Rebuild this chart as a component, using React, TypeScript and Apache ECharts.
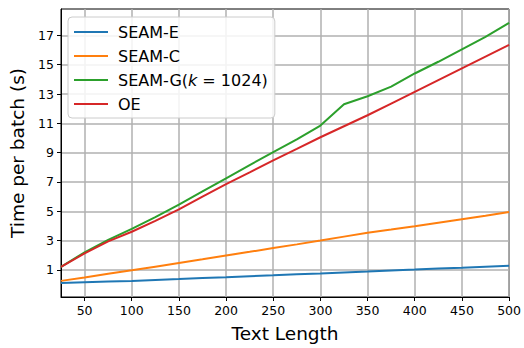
import React, { useEffect, useRef } from "react";
import * as echarts from "echarts";

const textLength = [25, 50, 75, 100, 125, 150, 175, 200, 225, 250, 275, 300, 325, 350, 375, 400, 425, 450, 475, 500];
const seamE = [0.1, 0.16, 0.21, 0.25, 0.31, 0.37, 0.44, 0.5, 0.57, 0.63, 0.7, 0.76, 0.83, 0.89, 0.96, 1.02, 1.09, 1.15, 1.22, 1.29];
const seamC = [0.25, 0.48, 0.73, 0.97, 1.22, 1.47, 1.72, 1.98, 2.23, 2.49, 2.74, 3.0, 3.27, 3.54, 3.75, 3.97, 4.22, 4.46, 4.7, 4.95];
const seamG = [1.2, 2.2, 3.05, 3.8, 4.6, 5.45, 6.35, 7.25, 8.15, 9.03, 9.9, 10.85, 12.3, 12.85, 13.5, 14.4, 15.2, 16.05, 16.9, 17.85];
const oe = [1.2, 2.12, 2.95, 3.6, 4.35, 5.13, 6.0, 6.85, 7.65, 8.47, 9.25, 10.05, 10.8, 11.55, 12.35, 13.15, 13.95, 14.75, 15.55, 16.35];

const xTicks = [50, 100, 150, 200, 250, 300, 350, 400, 450, 500];
const yTicks = [1, 3, 5, 7, 9, 11, 13, 15, 17];

const seriesNames = ["SEAM-E", "SEAM-C", "SEAM-G(k = 1024)", "OE"];
const seriesColors = ["#1f77b4", "#ff7f0e", "#2ca02c", "#d62728"];
const seriesValues = [seamE, seamC, seamG, oe];

const FONT = "DejaVu Sans";

export default function App() {
  const ref = useRef<HTMLDivElement>(null);
  useEffect(() => {
    if (!ref.current) return;
    const chart = echarts.init(ref.current, undefined, { renderer: "svg" });
    const gridColor = "#b0b0b0";
    chart.setOption({
      animation: false,
      backgroundColor: "#ffffff",
      textStyle: { fontFamily: FONT },
      grid: {
        left: 61,
        right: 13,
        top: 9,
        bottom: 46,
        show: true,
        borderColor: "#000",
        borderWidth: 1,
        backgroundColor: "transparent",
      },
      legend: {
        orient: "vertical",
        left: 68,
        top: 17,
        data: seriesNames.map((n) => ({ name: n, icon: "rect" })),
        itemWidth: 34,
        itemHeight: 2,
        itemGap: 8,
        padding: [7, 7, 6, 6],
        backgroundColor: "rgba(255,255,255,0.85)",
        borderColor: "#cccccc",
        borderWidth: 1,
        borderRadius: 4,
        textStyle: {
          fontFamily: FONT,
          fontSize: 16,
          color: "#000",
          padding: [0, 0, 0, 5],
          rich: {
            i: { fontFamily: FONT, fontSize: 16, fontStyle: "italic", color: "#000" },
            n: { fontFamily: FONT, fontSize: 16, color: "#000" },
          },
        },
        formatter: (name: string) =>
          name === "SEAM-G(k = 1024)" ? "{n|SEAM-G(}{i|k}{n| = 1024)}" : name,
      },
      xAxis: {
        type: "value",
        min: 25,
        max: 500,
        name: "Text Length",
        nameLocation: "middle",
        nameGap: 27,
        nameTextStyle: { fontFamily: FONT, fontSize: 18.5, color: "#000" },
        axisLine: { show: true, onZero: false, lineStyle: { color: "#000", width: 1 } },
        axisTick: { show: true, length: 4, lineStyle: { color: "#000", width: 1 }, customValues: xTicks },
        axisLabel: { fontFamily: FONT, fontSize: 12.5, color: "#000", margin: 7, customValues: xTicks },
        splitLine: { show: true, lineStyle: { color: gridColor, width: 1.5 } },
      },
      yAxis: {
        type: "value",
        min: -0.85,
        max: 18.8,
        name: "Time per batch (s)",
        nameLocation: "middle",
        nameGap: 34,
        nameTextStyle: { fontFamily: FONT, fontSize: 18.5, color: "#000" },
        axisLine: { show: true, onZero: false, lineStyle: { color: "#000", width: 1 } },
        axisTick: { show: true, length: 4, lineStyle: { color: "#000", width: 1 }, customValues: yTicks },
        axisLabel: { fontFamily: FONT, fontSize: 12.5, color: "#000", margin: 7, customValues: yTicks },
        splitLine: { show: true, lineStyle: { color: gridColor, width: 1.5 } },
      },
      series: seriesNames.map((n, si) => ({
        name: n,
        type: "line",
        data: textLength.map((x, i) => [x, seriesValues[si][i]]),
        showSymbol: false,
        symbol: "none",
        color: seriesColors[si],
        lineStyle: { color: seriesColors[si], width: 2 },
      })),
    });
    return () => chart.dispose();
  }, []);
  return <div ref={ref} style={{ position: "fixed", left: 0, top: 0, width: 524, height: 348 }} />;
}
